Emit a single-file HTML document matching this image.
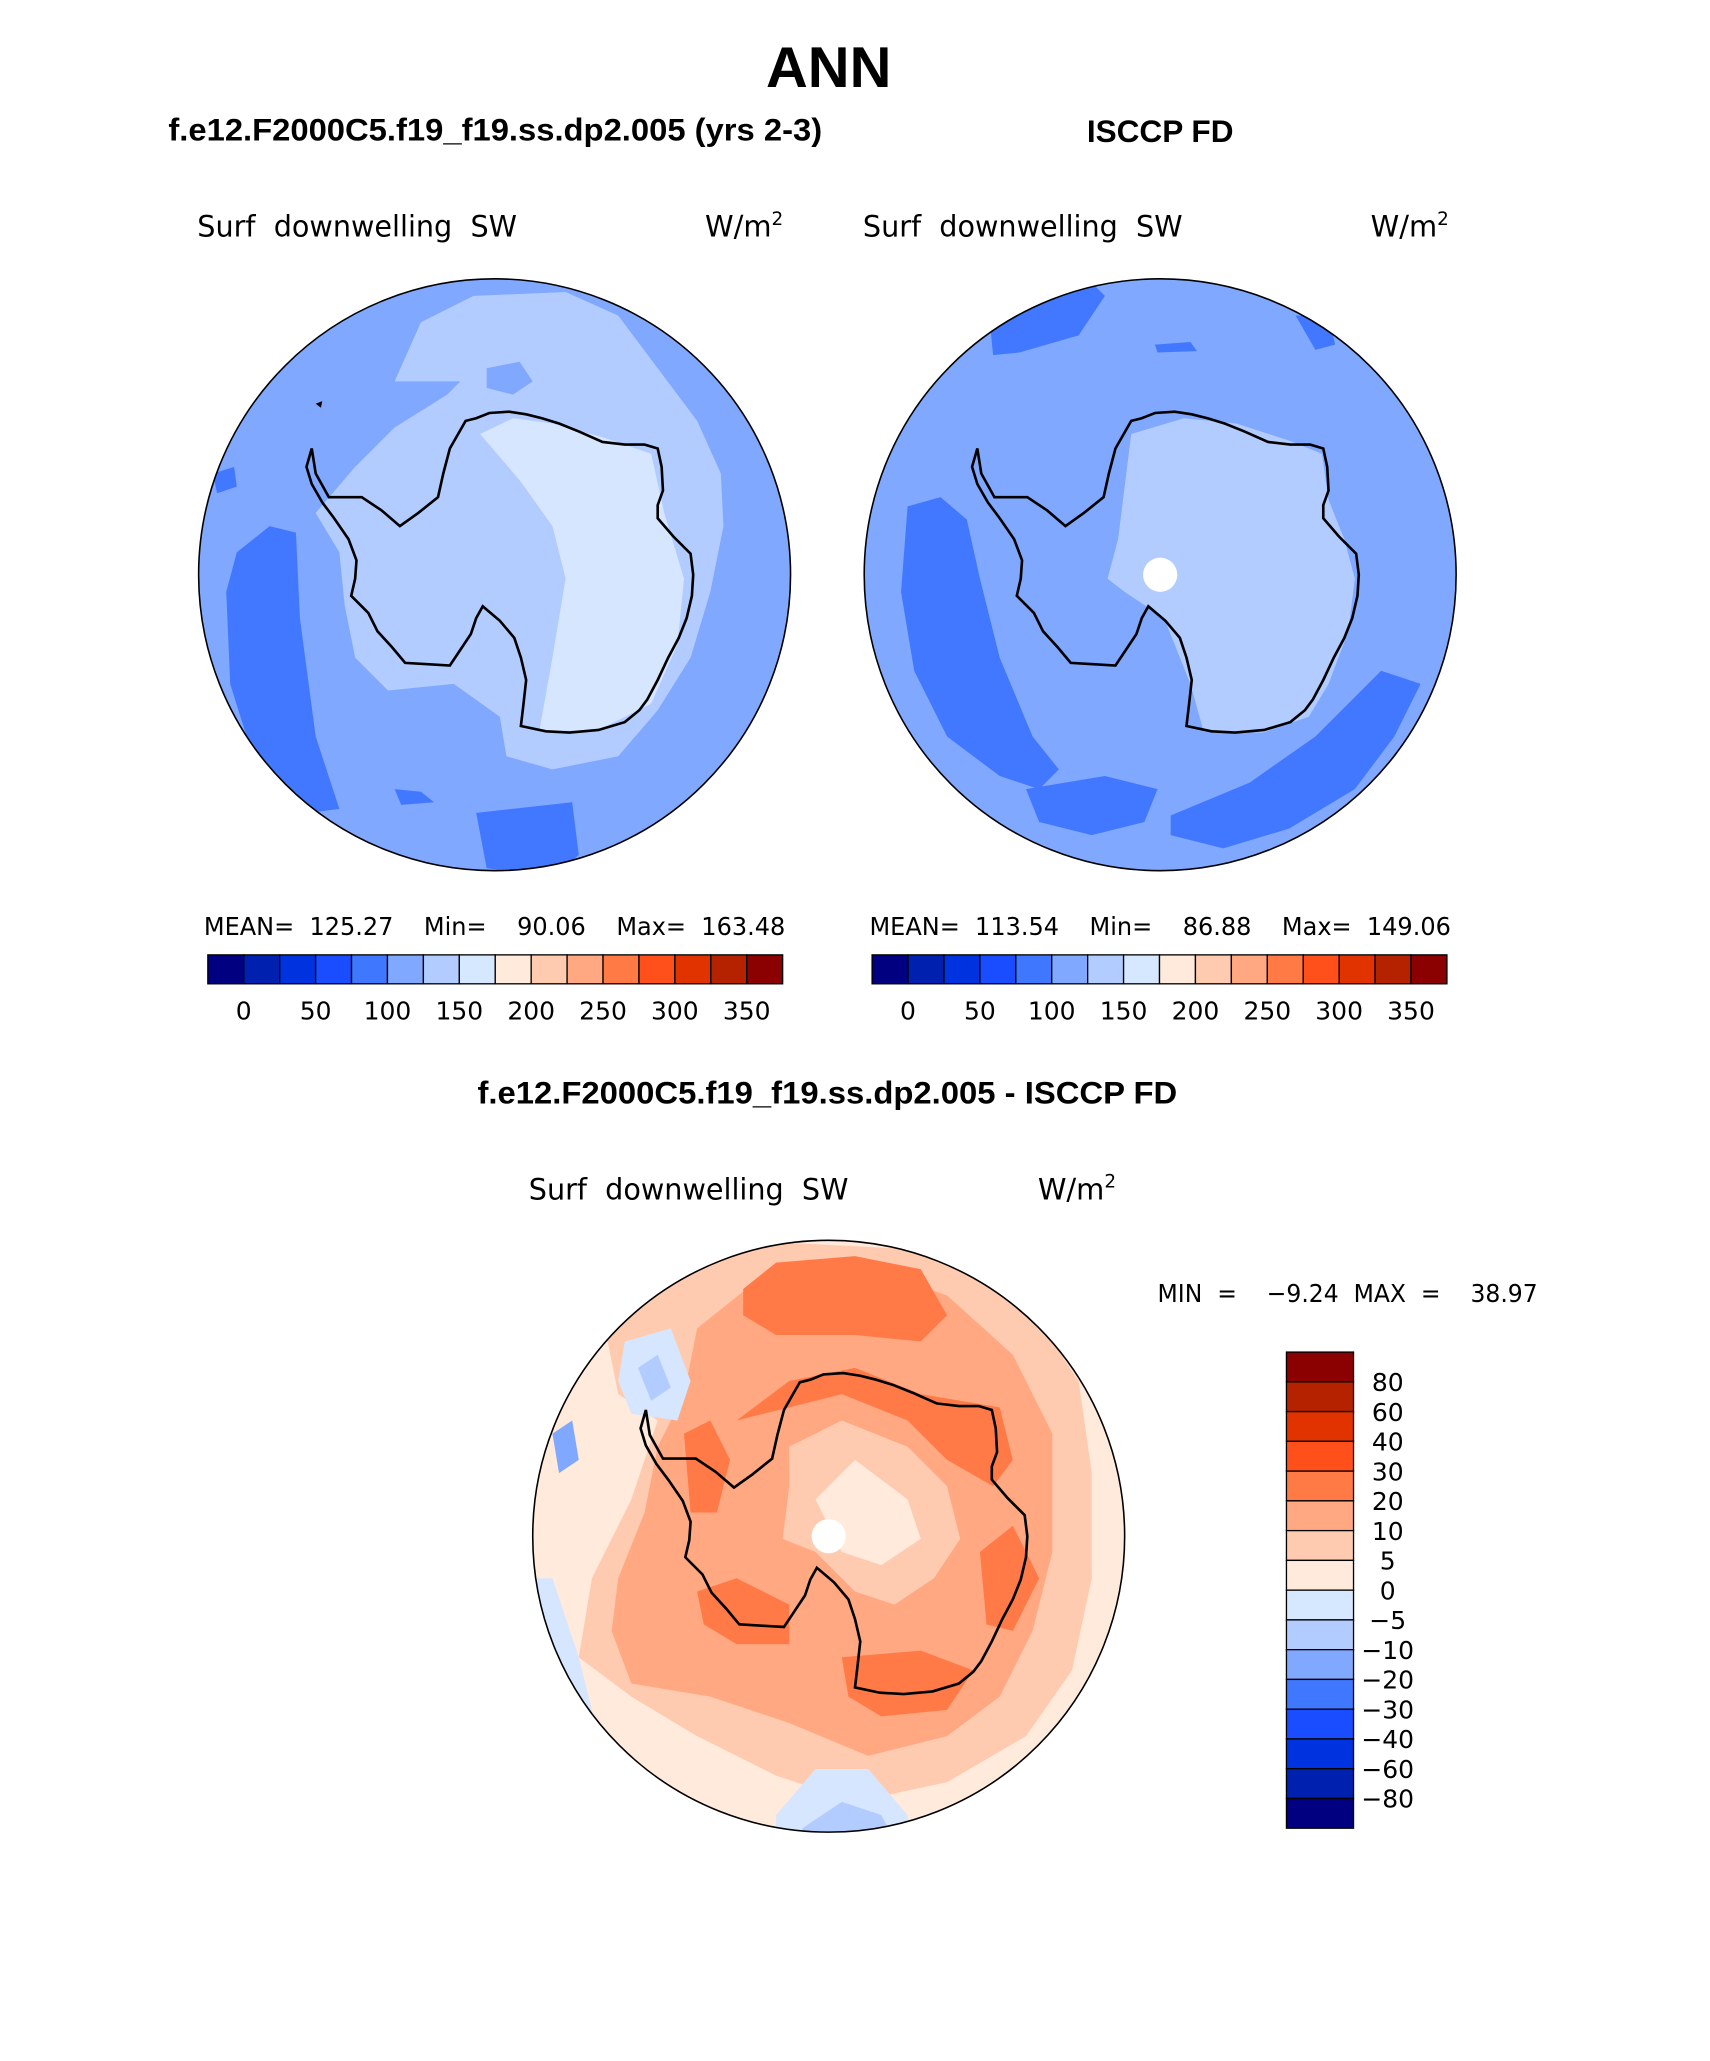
<!DOCTYPE html>
<html><head><meta charset="utf-8"><style>
html,body{margin:0;padding:0;background:#fff;}
svg{display:block;}
text{white-space:pre;}
.t{font-family:"DejaVu Sans","Liberation Sans",sans-serif;font-weight:normal;fill:#000;}
.b{font-family:"Liberation Sans",sans-serif;font-weight:bold;fill:#000;}
</style></head><body>
<svg id="page" width="1710" height="2061" viewBox="0 0 1300 1567" preserveAspectRatio="none" xmlns="http://www.w3.org/2000/svg">
<defs>
<clipPath id="c1"><circle cx="376" cy="437" r="225"/></clipPath>
<clipPath id="c2"><circle cx="882" cy="437" r="225"/></clipPath>
<clipPath id="c3"><circle cx="630" cy="1168" r="225"/></clipPath>
<path id="ant" d="M354,320 L362,318 L372,314 L387,313 L400,315 L412,318 L425,322 L440,328 L458,336 L475,338 L490,338 L500,341 L503,355 L504,373 L500,384 L500,394 L512,408 L525,421 L527,437 L526,453 L522,470 L516,485 L508,500 L500,517 L492,532 L486,540 L475,549 L455,555 L433,557 L415,556 L396,552 L398,535 L400,517 L396,500 L391,485 L380,472 L367,461 L362,470 L358,482 L350,494 L342,506 L325,505 L308,504 L298,492 L287,480 L280,466 L267,453 L270,440 L271,426 L265,410 L254,394 L245,382 L237,368 L233,355 L237,341 L240,360 L250,378 L262,378 L275,378 L290,388 L304,400 L318,390 L333,378 L337,360 L342,341 Z"/>
</defs>

<text class="b" x="630" y="66" font-size="44" text-anchor="middle">ANN</text>
<text class="b" x="128" y="107" font-size="24" textLength="497" lengthAdjust="spacingAndGlyphs">f.e12.F2000C5.f19_f19.ss.dp2.005 (yrs 2-3)</text>
<text class="b" x="882" y="108" font-size="24" text-anchor="middle">ISCCP FD</text>
<text class="b" x="363" y="839" font-size="24" textLength="532" lengthAdjust="spacingAndGlyphs">f.e12.F2000C5.f19_f19.ss.dp2.005 - ISCCP FD</text>

<text class="t" x="150" y="180" font-size="22" textLength="243" lengthAdjust="spacingAndGlyphs">Surf  downwelling  SW</text>
<text class="t" x="536" y="180" font-size="22">W/m<tspan font-size="14" dy="-9">2</tspan></text>
<text class="t" x="656" y="180" font-size="22" textLength="243" lengthAdjust="spacingAndGlyphs">Surf  downwelling  SW</text>
<text class="t" x="1042" y="180" font-size="22">W/m<tspan font-size="14" dy="-9">2</tspan></text>
<text class="t" x="402" y="912" font-size="22" textLength="243" lengthAdjust="spacingAndGlyphs">Surf  downwelling  SW</text>
<text class="t" x="789" y="912" font-size="22">W/m<tspan font-size="14" dy="-9">2</tspan></text>

<g clip-path="url(#c1)">
<rect x="140" y="200" width="480" height="480" fill="#80a8ff"/>
<path d="M300,290 L320,245 L360,225 L430,222 L470,240 L500,280 L530,320 L548,360 L550,400 L540,450 L525,500 L500,540 L470,575 L420,585 L385,575 L380,545 L345,520 L295,525 L270,500 L262,460 L258,420 L240,390 L270,355 L300,325 L340,300 L350,290 Z" fill="#b3ccff"/>
<path d="M370,280 L395,275 L405,290 L390,300 L370,295 Z" fill="#80a8ff"/>
<path d="M365,330 L390,318 L420,322 L460,333 L495,345 L505,390 L520,440 L515,490 L495,535 L455,555 L410,556 L420,500 L430,440 L420,400 L395,365 Z" fill="#d6e6ff"/>
<path d="M180,420 L205,400 L225,405 L228,470 L240,560 L258,615 L235,618 L200,600 L175,520 L172,450 Z" fill="#4178ff"/>
<path d="M162,360 L178,355 L180,370 L165,375 Z" fill="#4178ff"/>
<path d="M362,618 L435,610 L440,650 L420,668 L370,660 Z" fill="#4178ff"/>
<path d="M300,600 L320,602 L330,610 L305,612 Z" fill="#4178ff"/>
<use href="#ant" fill="none" stroke="#000" stroke-width="2"/>
<path d="M240,307 L245,305 L244,310 Z" fill="#000"/>
</g>
<circle cx="376" cy="437" r="225" fill="none" stroke="#000" stroke-width="1.2"/>

<g clip-path="url(#c2)">
<rect x="646" y="200" width="480" height="480" fill="#80a8ff"/>
<path d="M860,330 L900,318 L940,322 L980,335 L1005,345 L1010,380 L1022,410 L1030,440 L1025,480 L1010,520 L995,545 L960,557 L915,556 L905,520 L885,470 L855,450 L842,440 L850,410 L855,370 Z" fill="#b3ccff"/>
<path d="M690,385 L715,378 L735,395 L745,440 L760,500 L785,560 L805,585 L790,600 L760,590 L720,560 L695,510 L685,450 Z" fill="#4178ff"/>
<path d="M780,600 L840,590 L880,600 L870,625 L830,635 L790,625 Z" fill="#4178ff"/>
<path d="M890,620 L950,595 L1000,560 L1050,510 L1080,520 L1060,560 L1030,600 L980,630 L930,645 L890,635 Z" fill="#4178ff"/>
<path d="M752,240 L820,205 L840,225 L820,255 L775,268 L755,270 Z" fill="#4178ff"/>
<path d="M985,240 L1010,240 L1015,262 L1000,266 Z" fill="#4178ff"/>
<path d="M878,262 L905,260 L910,267 L880,268 Z" fill="#4178ff"/>
<use href="#ant" transform="translate(506,0)" fill="none" stroke="#000" stroke-width="2"/>
<circle cx="882" cy="437" r="13" fill="#fff"/>
</g>
<circle cx="882" cy="437" r="225" fill="none" stroke="#000" stroke-width="1.2"/>

<g clip-path="url(#c3)">
<rect x="400" y="940" width="460" height="460" fill="#ffeadb"/>
<path d="M460,1010 L520,960 L600,945 L700,950 L780,990 L820,1050 L830,1120 L830,1200 L815,1270 L780,1320 L720,1355 L650,1370 L590,1350 L530,1320 L480,1290 L440,1260 L450,1200 L480,1140 L500,1080 L470,1060 Z" fill="#ffcbb0"/>
<path d="M530,1010 L580,970 L650,960 L720,985 L770,1030 L800,1090 L800,1180 L785,1240 L760,1290 L720,1320 L660,1335 L600,1310 L540,1290 L480,1280 L465,1240 L470,1200 L490,1150 L500,1100 L520,1060 Z" fill="#ffa882"/>
<path d="M565,980 L590,960 L650,955 L700,965 L720,1000 L700,1020 L650,1015 L590,1015 L565,1000 Z" fill="#ff7a47"/>
<path d="M560,1080 L600,1050 L650,1040 L700,1060 L760,1070 L770,1110 L755,1130 L720,1110 L690,1080 L640,1060 L600,1070 Z" fill="#ff7a47"/>
<path d="M520,1090 L540,1080 L555,1110 L545,1150 L525,1150 Z" fill="#ff7a47"/>
<path d="M530,1210 L560,1200 L600,1220 L600,1250 L560,1250 L535,1235 Z" fill="#ff7a47"/>
<path d="M640,1260 L700,1255 L740,1270 L720,1300 L670,1305 L645,1290 Z" fill="#ff7a47"/>
<path d="M745,1180 L770,1160 L790,1200 L770,1240 L750,1235 Z" fill="#ff7a47"/>
<path d="M600,1100 L640,1080 L690,1100 L720,1130 L730,1170 L710,1200 L680,1220 L650,1210 L620,1180 L595,1170 L600,1130 Z" fill="#ffcbb0"/>
<path d="M620,1140 L650,1110 L690,1140 L700,1170 L670,1190 L640,1180 Z" fill="#ffeadb"/>
<path d="M475,1020 L510,1010 L525,1050 L515,1080 L480,1075 L470,1050 Z" fill="#d6e6ff"/>
<path d="M485,1040 L500,1030 L510,1055 L495,1065 Z" fill="#b3ccff"/>
<path d="M420,1090 L435,1080 L440,1110 L425,1120 Z" fill="#80a8ff"/>
<path d="M405,1200 L420,1200 L440,1260 L455,1320 L420,1320 L405,1260 Z" fill="#d6e6ff"/>
<path d="M590,1380 L620,1345 L660,1345 L690,1380 L690,1400 L590,1400 Z" fill="#d6e6ff"/>
<path d="M610,1390 L640,1370 L670,1380 L680,1400 L610,1400 Z" fill="#b3ccff"/>
<use href="#ant" transform="translate(254,731)" fill="none" stroke="#000" stroke-width="2"/>
<circle cx="630" cy="1168" r="13" fill="#fff"/>
</g>
<circle cx="630" cy="1168" r="225" fill="none" stroke="#000" stroke-width="1.2"/>

<text class="t" x="155" y="711" font-size="19" textLength="442" lengthAdjust="spacingAndGlyphs">MEAN=  125.27    Min=    90.06    Max=  163.48</text>
<text class="t" x="661" y="711" font-size="19" textLength="442" lengthAdjust="spacingAndGlyphs">MEAN=  113.54    Min=    86.88    Max=  149.06</text>
<text class="t" x="880" y="990" font-size="19" textLength="289" lengthAdjust="spacingAndGlyphs">MIN  =    −9.24  MAX  =    38.97</text>

<g id="cbars"></g>
</svg>
<script>
const colors = ["#000080","#0020b0","#0033e0","#1a4dff","#4077ff","#80a8ff","#b3ccff","#d6e8ff","#ffeadb","#ffcbb0","#ffa882","#ff7a45","#ff4f1a","#e03300","#b52200","#8b0000"];
const absTicks = ["0","50","100","150","200","250","300","350"];
const diffTicks = ["−80","−60","−40","−30","−20","−10","−5","0","5","10","20","30","40","60","80"];
const NS = "http://www.w3.org/2000/svg";
const cbGroup = document.getElementById("cbars");
function mk(tag, attrs){const e=document.createElementNS(NS,tag);for(const k in attrs)e.setAttribute(k,attrs[k]);return e;}
function hbar(x0){
  const w=(595-158)/colors.length;
  colors.forEach((c,i)=>{
    const r=mk("rect",{x:x0+i*w,y:726,width:w,height:22,fill:c,stroke:"#000","stroke-width":1});
    
    
    cbGroup.appendChild(r);
  });
  absTicks.forEach((t,i)=>{
    const tx=mk("text",{x:x0+(1+2*i)*w,y:775,"font-size":19,"text-anchor":"middle",class:"t"});
    tx.textContent=t;
    
    
    cbGroup.appendChild(tx);
  });
}
hbar(158);
hbar(663);
const barTop=1028, barBot=1390, nBox=colors.length, boxH=(barBot-barTop)/nBox;
colors.slice().reverse().forEach((c,i)=>{
  const r=mk("rect",{x:978,y:barTop+i*boxH,width:51,height:boxH,fill:c,stroke:"#000","stroke-width":1});
  
  
  cbGroup.appendChild(r);
});
diffTicks.slice().reverse().forEach((t,i)=>{
  const tx=mk("text",{x:1055,y:barTop+(i+1)*boxH+7,"font-size":19,"text-anchor":"middle",class:"t"});
  tx.textContent=t;
  
  
  cbGroup.appendChild(tx);
});
</script>
</body></html>
